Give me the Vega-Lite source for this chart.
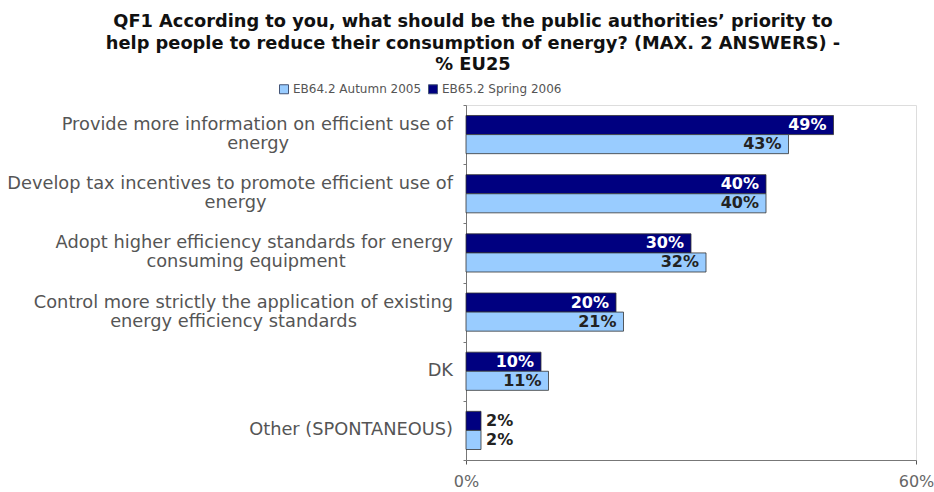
{
  "$schema": "https://vega.github.io/schema/vega-lite/v6.json",
  "width": 450,
  "height": 355,
  "autosize": {"type": "none"},
  "padding": {"left": 466, "top": 105, "right": 18, "bottom": 32},
  "background": "white",
  "title": {
    "text": ["QF1 According to you, what should be the public authorities’ priority to", "help people to reduce their consumption of energy? (MAX. 2 ANSWERS) -", "% EU25"],
    "anchor": "middle",
    "frame": "group",
    "dx": -218,
    "offset": 9,
    "font": "DejaVu Sans",
    "fontSize": 17.8,
    "fontWeight": "bold",
    "color": "#111111",
    "lineHeight": 21.5
  },
  "data": {
    "values": [
      {"answer": "Provide more information on efficient use of|energy", "wave": "EB65.2 Spring 2006", "pct": 49},
      {"answer": "Provide more information on efficient use of|energy", "wave": "EB64.2 Autumn 2005", "pct": 43},
      {"answer": "Develop tax incentives to promote efficient use of|energy", "wave": "EB65.2 Spring 2006", "pct": 40},
      {"answer": "Develop tax incentives to promote efficient use of|energy", "wave": "EB64.2 Autumn 2005", "pct": 40},
      {"answer": "Adopt higher efficiency standards for energy|consuming equipment", "wave": "EB65.2 Spring 2006", "pct": 30},
      {"answer": "Adopt higher efficiency standards for energy|consuming equipment", "wave": "EB64.2 Autumn 2005", "pct": 32},
      {"answer": "Control more strictly the application of existing|energy efficiency standards", "wave": "EB65.2 Spring 2006", "pct": 20},
      {"answer": "Control more strictly the application of existing|energy efficiency standards", "wave": "EB64.2 Autumn 2005", "pct": 21},
      {"answer": "DK", "wave": "EB65.2 Spring 2006", "pct": 10},
      {"answer": "DK", "wave": "EB64.2 Autumn 2005", "pct": 11},
      {"answer": "Other (SPONTANEOUS)", "wave": "EB65.2 Spring 2006", "pct": 2},
      {"answer": "Other (SPONTANEOUS)", "wave": "EB64.2 Autumn 2005", "pct": 2}
    ]
  },
  "transform": [{"calculate": "datum.pct + '%'", "as": "txt"}],
  "encoding": {
    "y": {
      "field": "answer",
      "type": "nominal",
      "sort": null,
      "scale": {"paddingInner": 0, "paddingOuter": 0},
      "axis": {
        "title": null,
        "labels": false,
        "tickBand": "extent",
        "ticks": true,
        "tickSize": 3,
        "domainColor": "#777777",
        "tickColor": "#777777"
      }
    },
    "x": {
      "field": "pct",
      "type": "quantitative",
      "scale": {"domain": [0, 60]},
      "axis": {
        "title": null,
        "values": [0, 60],
        "labelExpr": "datum.value + '%'",
        "grid": false,
        "tickSize": 4,
        "domainColor": "#777777",
        "tickColor": "#555555",
        "labelColor": "#666666",
        "labelFont": "DejaVu Sans",
        "labelFontSize": 16,
        "labelPadding": 9,
        "labelFlush": false
      }
    }
  },
  "layer": [
    {
      "mark": {"type": "bar", "stroke": "#333333", "strokeWidth": 0.8},
      "encoding": {
        "yOffset": {
          "field": "wave",
          "type": "nominal",
          "sort": ["EB65.2 Spring 2006", "EB64.2 Autumn 2005"],
          "scale": {"paddingOuter": 0.55, "paddingInner": 0}
        },
        "color": {
          "field": "wave",
          "type": "nominal",
          "scale": {"domain": ["EB64.2 Autumn 2005", "EB65.2 Spring 2006"], "range": ["#99CCFF", "#000080"]},
          "legend": {
            "title": null,
            "orient": "none",
            "legendX": -188,
            "legendY": -22,
            "direction": "horizontal",
            "symbolType": "square",
            "symbolSize": 81,
            "symbolStrokeColor": "#445577",
            "symbolStrokeWidth": 1,
            "labelFont": "DejaVu Sans",
            "labelFontSize": 12,
            "labelColor": "#555555",
            "columnPadding": 4,
            "labelOffset": 3
          }
        }
      }
    },
    {
      "transform": [{"filter": "datum.pct >= 5"}],
      "mark": {"type": "text", "align": "right", "baseline": "middle", "dx": -7, "font": "DejaVu Sans", "fontSize": 16, "fontWeight": "bold"},
      "encoding": {
        "yOffset": {
          "field": "wave",
          "type": "nominal",
          "sort": ["EB65.2 Spring 2006", "EB64.2 Autumn 2005"],
          "scale": {"paddingOuter": 0.55, "paddingInner": 0}
        },
        "text": {"field": "txt"},
        "color": {"condition": {"test": "datum.wave == 'EB65.2 Spring 2006'", "value": "#ffffff"}, "value": "#222222"}
      }
    },
    {
      "transform": [{"filter": "datum.pct < 5"}],
      "mark": {"type": "text", "align": "left", "baseline": "middle", "dx": 5, "font": "DejaVu Sans", "fontSize": 16, "fontWeight": "bold", "color": "#222222"},
      "encoding": {
        "yOffset": {
          "field": "wave",
          "type": "nominal",
          "sort": ["EB65.2 Spring 2006", "EB64.2 Autumn 2005"],
          "scale": {"paddingOuter": 0.55, "paddingInner": 0}
        },
        "text": {"field": "txt"}
      }
    },
    {
      "transform": [
        {"filter": "datum.wave == 'EB65.2 Spring 2006' && indexof(datum.answer, '|') >= 0"},
        {"calculate": "[split(datum.answer,'|')[0], pad(split(datum.answer,'|')[1], length(split(datum.answer,'|')[1]) + round((length(split(datum.answer,'|')[0]) - length(split(datum.answer,'|')[1])) * 0.76), '\u00a0', 'right') + '\u200b']", "as": "lines"}
      ],
      "mark": {"type": "text", "align": "right", "baseline": "middle", "dx": -13, "dy": -9.5, "font": "DejaVu Sans", "fontSize": 17.8, "lineHeight": 19, "color": "#555555"},
      "encoding": {
        "x": {"datum": 0},
        "text": {"field": "lines"}
      }
    },
    {
      "transform": [
        {"filter": "datum.wave == 'EB65.2 Spring 2006' && indexof(datum.answer, '|') < 0"}
      ],
      "mark": {"type": "text", "align": "right", "baseline": "middle", "dx": -13, "font": "DejaVu Sans", "fontSize": 17.8, "color": "#555555"},
      "encoding": {
        "x": {"datum": 0},
        "text": {"field": "answer"}
      }
    }
  ]
}
